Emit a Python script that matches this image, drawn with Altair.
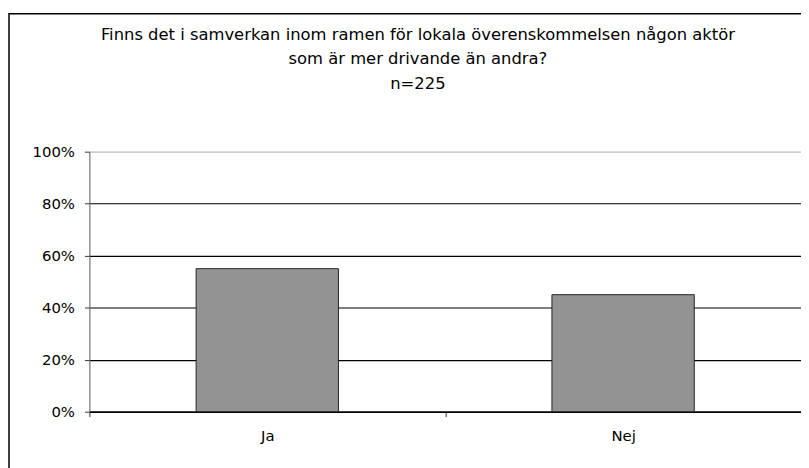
import altair as alt
import pandas as pd

categories = ["Ja", "Nej"]
shares = [0.55, 0.45]
title_lines = [
    "Finns det i samverkan inom ramen för lokala överenskommelsen någon aktör",
    "som är mer drivande än andra?",
    "n=225",
]
y_ticks = [0, 0.2, 0.4, 0.6, 0.8, 1.0]

df = pd.DataFrame({"svar": categories, "andel": shares})

FONT = "DejaVu Sans"

bars = alt.Chart(df).mark_bar(
    width=alt.RelativeBandSize(0.4),
    color="#939393",
    stroke="#222222",
    strokeWidth=1,
).encode(
    x=alt.X(
        "svar:N",
        sort=categories,
        title=None,
        scale=alt.Scale(paddingInner=0, paddingOuter=0),
        axis=alt.Axis(
            labelAngle=0,
            tickBand="extent",
            tickSize=5,
            tickColor="#333333",
            domainColor="#000000",
            domainWidth=1.5,
            labelPadding=12,
            labelFont=FONT,
            labelFontSize=15,
            labelColor="#000000",
            grid=False,
        ),
    ),
    y=alt.Y(
        "andel:Q",
        title=None,
        scale=alt.Scale(domain=[0, 1], nice=False),
        axis=alt.Axis(
            values=y_ticks,
            format=".0%",
            tickSize=5,
            tickColor="#333333",
            domainColor="#666666",
            labelPadding=10,
            labelFont=FONT,
            labelFontSize=15,
            labelColor="#000000",
            grid=True,
            gridColor={"condition": {"test": "datum.value >= 1", "value": "#c4c4c4"}, "value": "#000000"},
            gridWidth=1.2,
            gridOpacity=1,
        ),
    ),
)

one = pd.DataFrame({"f": [0]})

frame = alt.Chart(one).mark_rect(
    fill=None, stroke="#000000", strokeWidth=1.5, clip=False
).encode(
    x=alt.value(-81), x2=alt.value(740), y=alt.value(-139), y2=alt.value(330)
)

title = alt.Chart(one).mark_text(
    text=title_lines,
    font=FONT,
    fontSize=16.5,
    lineHeight=25,
    align="center",
    baseline="alphabetic",
    color="#000000",
).encode(x=alt.value(331), y=alt.value(-113))

chart = alt.layer(frame, title, bars).properties(
    width=717,
    height=262,
    autosize=alt.AutoSizeParams(type="none"),
    padding={"left": 82, "top": 143, "right": 0, "bottom": 60},
).configure_view(stroke=None).configure(background="white")

chart.save("out.html", embed_options={"renderer": "svg", "actions": False})
